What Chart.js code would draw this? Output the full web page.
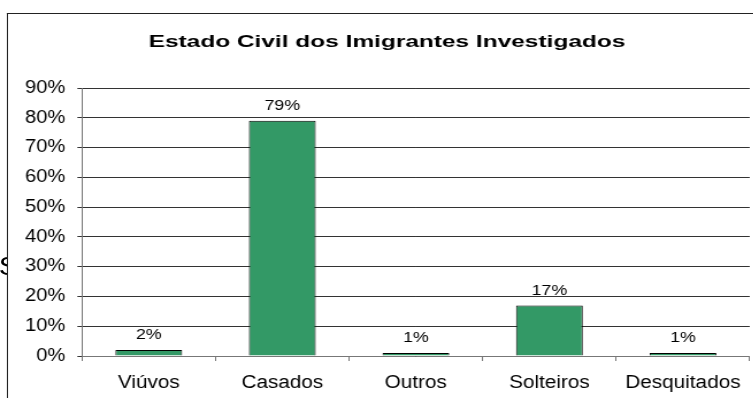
<!DOCTYPE html>
<html>
<head>
<meta charset="utf-8">
<script src="https://cdn.jsdelivr.net/npm/chart.js@4"></script>
<style>
    html, body { margin: 0; padding: 0; background: #fff; overflow: hidden; }
    /* the original picture is an Excel chart stretched sideways, so stretch the whole thing */
    #wrap { position: absolute; left: 0; top: 0; width: 655px; height: 398px; transform: scaleX(1.15); transform-origin: 0 0; }
    #frame { position: absolute; left: 6px; top: 13px; width: 700px; height: 420px; border-left: 1px solid #222; border-top: 1px solid #222; }
    #cut { position: absolute; left: 0; top: 253px; width: 6px; height: 32px; overflow: hidden; font: 26px "Liberation Sans", Arial, sans-serif; line-height: 1; color: #000; }
    #cut span { position: absolute; left: -1px; top: 0; }
    canvas { position: absolute; left: 0; top: 0; }
</style>
</head>
<body>
<div id="wrap">
    <div id="cut"><span>S</span></div>
    <div id="frame"></div>
    <canvas id="chart" width="655" height="398"></canvas>
</div>
<script>
// Dados
const chartTitle = 'Estado Civil dos Imigrantes Investigados';
const categories = ['Viúvos', 'Casados', 'Outros', 'Solteiros', 'Desquitados'];
const percentValues = [2, 79, 1, 17, 1];
const yMin = 0;
const yMax = 90;
const yStep = 10;

const FONT = '"Liberation Sans", Arial, sans-serif';
Chart.defaults.font.family = FONT;
Chart.defaults.color = '#000';

// título (mais esticado que o resto, como no original)
const titleText = {
    id: 'titleText',
    afterDraw(chart) {
        const ctx = chart.ctx;
        ctx.save();
        ctx.translate(336.5, 42);
        ctx.scale(1.25, 1);
        ctx.font = 'bold 17px ' + FONT;
        ctx.fillStyle = '#000';
        ctx.textAlign = 'center';
        ctx.textBaseline = 'middle';
        ctx.fillText(chartTitle, 0, 0);
        ctx.restore();
    }
};

// rótulos de valor acima das barras
const barLabels = {
    id: 'barLabels',
    afterDatasetsDraw(chart) {
        const ctx = chart.ctx;
        const meta = chart.getDatasetMeta(0);
        ctx.save();
        ctx.font = '15.5px ' + FONT;
        ctx.fillStyle = '#000';
        ctx.textAlign = 'center';
        ctx.textBaseline = 'middle';
        meta.data.forEach((bar, i) => {
            ctx.fillText(percentValues[i] + '%', bar.x, bar.y - 15);
        });
        ctx.restore();
    }
};

new Chart(document.getElementById('chart'), {
    type: 'bar',
    data: {
        labels: categories,
        datasets: [{
            data: percentValues,
            backgroundColor: '#339966',
            borderColor: '#000',
            borderWidth: 1,
            barPercentage: 0.5,
            categoryPercentage: 1,
        }],
    },
    options: {
        responsive: false,
        animation: false,
        devicePixelRatio: 1,
        layout: {
            padding: { left: 0, right: 1, top: 88, bottom: 0 },
        },
        plugins: {
            legend: { display: false },
            tooltip: { enabled: false },
            title: { display: false },
        },
        scales: {
            x: {
                grid: {
                    offset: true,
                    drawOnChartArea: false,
                    drawTicks: true,
                    tickLength: 5,
                    color: '#777',
                },
                border: { color: '#777', width: 1 },
                ticks: {
                    color: '#000',
                    font: { size: 18 },
                    padding: 11,
                    maxRotation: 0,
                },
                afterFit: (scale) => { scale.height = 42; },
            },
            y: {
                min: yMin,
                max: yMax,
                grid: {
                    color: '#333',
                    tickLength: 4,
                },
                border: { color: '#777', width: 1 },
                ticks: {
                    stepSize: yStep,
                    color: '#000',
                    font: { size: 17.5 },
                    padding: 10.5,
                    callback: (value) => value + '%',
                },
                afterFit: (scale) => { scale.width = 71.3; },
            },
        },
    },
    plugins: [barLabels, titleText],
});
</script>
</body>
</html>
